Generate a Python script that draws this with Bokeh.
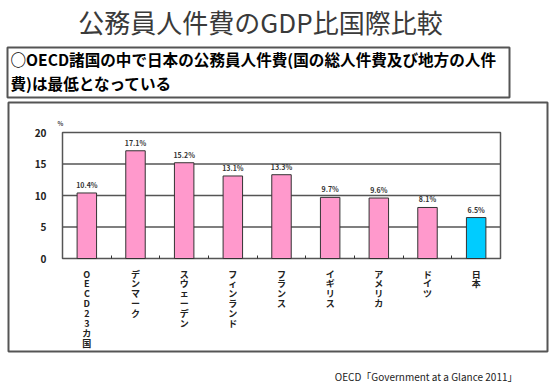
from bokeh.plotting import figure
from bokeh.models import Range1d, FixedTicker, ColumnDataSource
from bokeh.embed import file_html
from bokeh.resources import INLINE
from bokeh.core.properties import value

title_text = "公務員人件費のGDP比国際比較"
note_line1 = "○OECD諸国の中で日本の公務員人件費(国の総人件費及び地方の人件"
note_line2 = "費)は最低となっている"
source_text = "OECD「Government at a Glance 2011」"
unit_text = "%"

categories = ["OECD23カ国", "デンマーク", "スウェーデン", "フィンランド", "フランス",
              "イギリス", "アメリカ", "ドイツ", "日本"]
values = [10.4, 17.1, 15.2, 13.1, 13.3, 9.7, 9.6, 8.1, 6.5]
colors = ["#FF99CC"] * 8 + ["#00CCFF"]
y_ticks = [0, 5, 10, 15, 20]

FONT = "Noto Sans CJK JP"
W, H = 549, 385
# chart area in canvas pixels
CL, CR, CT, CB = 62, 500, 132, 258

n = len(categories)
ymin, ymax = y_ticks[0], y_ticks[-1]
ux = (CR - CL) / n
uy = (CB - CT) / (ymax - ymin)
x_range = Range1d(-CL / ux, n + (W - CR) / ux)
y_range = Range1d(ymin - (H - CB) / uy, ymax + CT / uy)

xs = [i + 0.5 for i in range(n)]
labels = [f"{v:.1f}%" for v in values]

p = figure(width=W, height=H, output_backend="svg", toolbar_location=None,
           x_range=x_range, y_range=y_range, min_border=0,
           extra_x_ranges={"px": Range1d(0, W)}, extra_y_ranges={"px": Range1d(H, 0)})
p.outline_line_color = None
p.background_fill_color = "white"
p.xgrid.visible = False
p.ygrid.visible = False

GRID = "#555555"
# gridlines inside the chart and the chart frame
inner = y_ticks[1:-1]
p.segment(x0=[0] * len(inner), x1=[n] * len(inner), y0=inner, y1=inner,
          line_color=GRID, line_width=1.5)
p.quad(left=[0], right=[n], bottom=[ymin], top=[ymax], fill_color=None,
       line_color=GRID, line_width=1.5)

src = ColumnDataSource(dict(x=xs, top=values, color=colors, label=labels))
p.vbar(x="x", top="top", bottom=0, width=0.4, fill_color="color",
       line_color="#333333", line_width=1, source=src)
p.text(x="x", y="top", text="label", source=src, text_align="center",
       text_baseline="bottom", y_offset=-3, text_font_size="7px",
       text_font=value(FONT), text_font_style="bold", text_color="#333333")

# axes drawn at the chart's edges
xa = p.xaxis[0]
xa.fixed_location = ymin
xa.ticker = FixedTicker(ticks=xs, minor_ticks=list(range(1, n)))
xa.major_label_overrides = {x: "\n".join(c) for x, c in zip(xs, categories)}
xa.axis_line_color = None
xa.major_tick_line_color = None
xa.minor_tick_in = 3
xa.minor_tick_out = 0
xa.minor_tick_line_color = "#333333"
xa.major_label_standoff = 3
xa.major_label_text_font = FONT
xa.major_label_text_font_size = "9px"
xa.major_label_text_font_style = "bold"
xa.major_label_text_color = "#222222"
xa.major_label_text_line_height = 0.76

ya = p.yaxis[0]
ya.fixed_location = 0
ya.ticker = FixedTicker(ticks=y_ticks)
ya.axis_line_color = None
ya.major_tick_line_color = None
ya.minor_tick_line_color = None
ya.major_label_standoff = 10
ya.major_label_text_font = FONT
ya.major_label_text_font_size = "10px"
ya.major_label_text_font_style = "bold"
ya.major_label_text_color = "#222222"

# page decorations in pixel coordinates
PX = dict(x_range_name="px", y_range_name="px")


def add_text(x, y, text, size, align="left", style="normal", color="#000000"):
    p.text(x=[x], y=[y], text=[text], text_align=align, text_baseline="middle",
           text_font=value(FONT), text_font_size=size, text_font_style=style,
           text_color=color, **PX)


def add_box(l, t, r, b):
    p.quad(left=[l], right=[r], top=[t], bottom=[b], fill_color=None,
           line_color="#555555", line_width=2, **PX)


add_text(260, 21, title_text, "26px", align="center", color="#3a3a3a")
add_box(7, 47, 509, 97)
add_text(10, 58, note_line1, "15.6px", style="bold")
add_text(10, 82, note_line2, "15.6px", style="bold")
add_box(8, 102, 547, 351)
add_text(60, 123, unit_text, "6px", align="center", style="bold", color="#444444")
add_text(517, 376, source_text, "10px", align="right", color="#222222")

open("out.html", "w").write(file_html(p, INLINE))
